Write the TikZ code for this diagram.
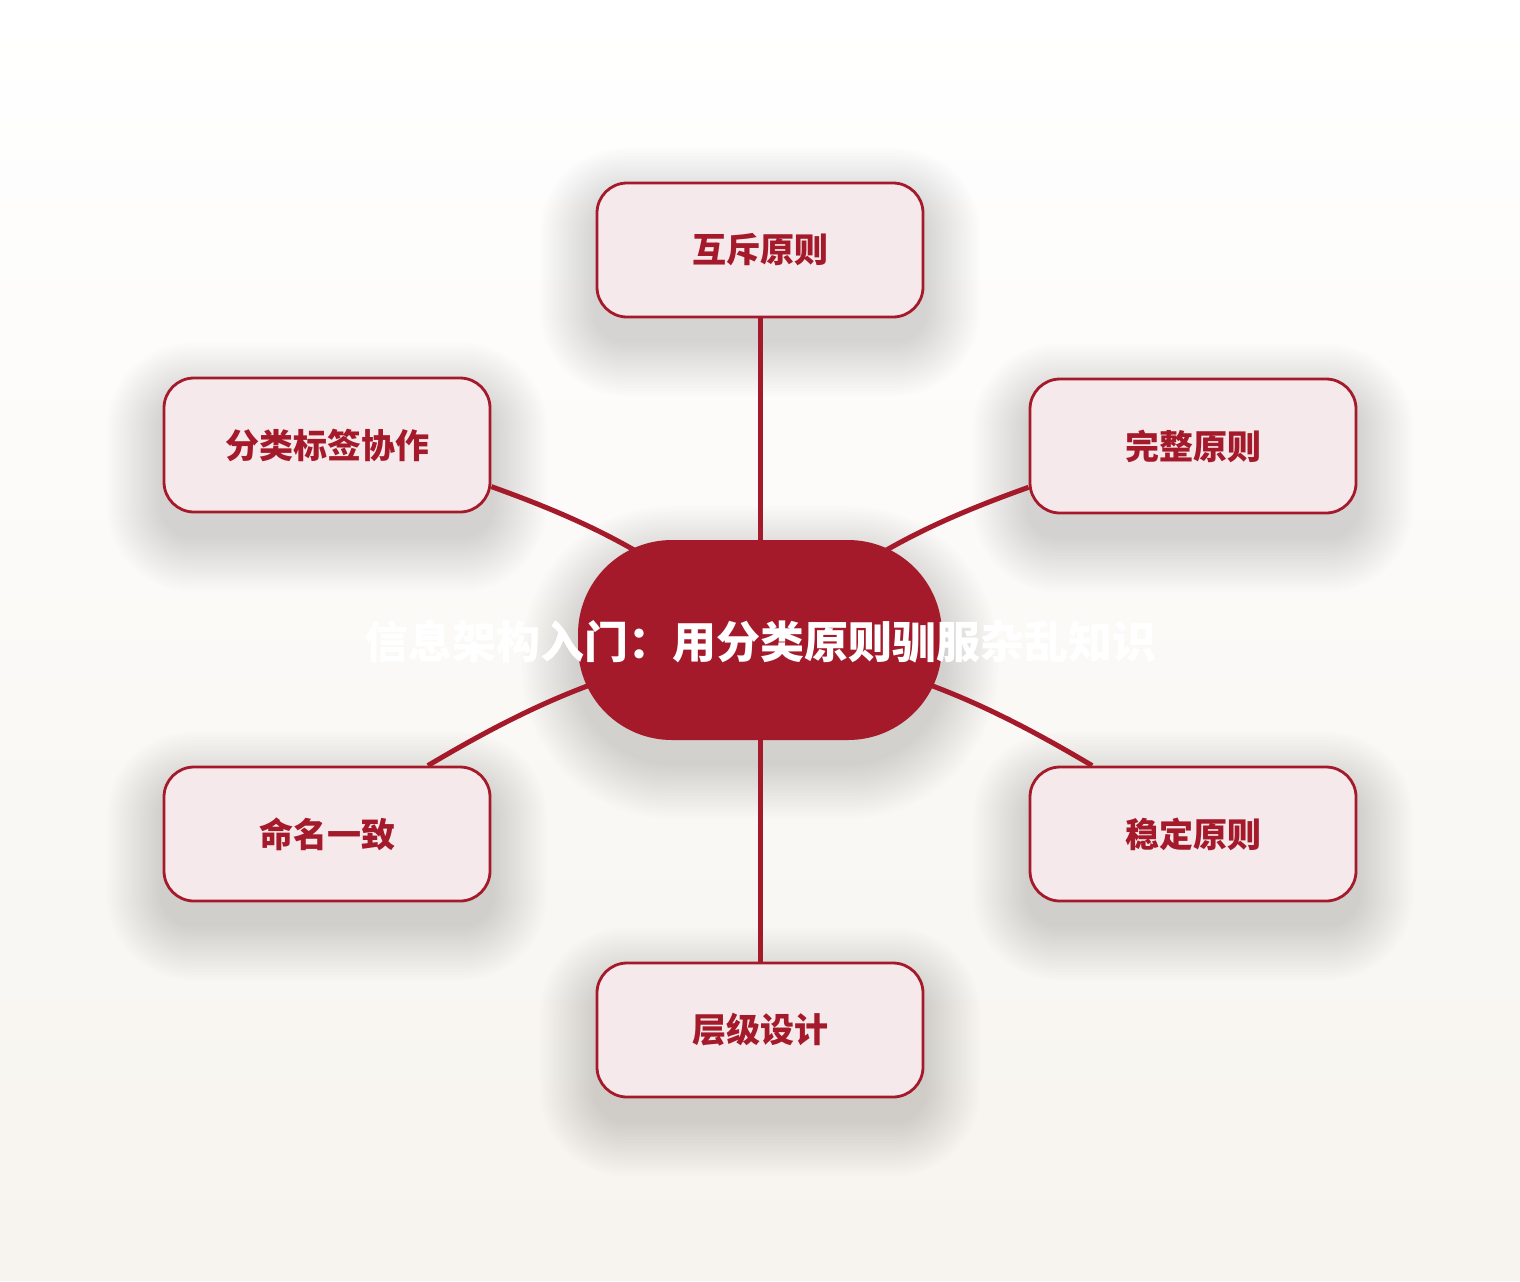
\documentclass[tikz,border=0pt]{standalone}
\usepackage{fontspec}
\newfontfamily\cjk{Noto Sans CJK SC}
\definecolor{crimson}{HTML}{A51A2A}
\definecolor{blush}{HTML}{F5E9EC}
\definecolor{paper}{HTML}{F7F4EF}
\pgfdeclarelayer{paperlayer}
\pgfdeclarelayer{shadowlayer}
\pgfdeclarelayer{links}
\pgfsetlayers{paperlayer,shadowlayer,links,main}
\tikzset{
  leaf/.style={draw=crimson, line width=1.4pt, fill=blush, rounded corners=15pt,
    minimum width=163pt, minimum height=67pt, text=crimson,
    font=\cjk\bfseries\fontsize{17}{20}\selectfont},
  hub/.style={fill=crimson, rounded corners=47pt, minimum width=182pt, minimum height=100pt},
  link/.style={crimson, line width=2.5pt},
  haze/.style={black, opacity=0.009}
}
\begin{document}
\begin{tikzpicture}[x=0.5pt,y=-0.5pt]
\begin{pgfonlayer}{paperlayer}
\foreach \i in {0,...,31}
  \fill [paper!\the\numexpr\i*100/31\relax!white](0,\i*40) rectangle (1520,\i*40+41);
\end{pgfonlayer}
\useasboundingbox (0,0) rectangle (1520,1280);
\node [hub] (core) at (760,640) {};
\node [leaf] (mutex) at (760,250) {互斥原则};
\node [leaf] (tagging) at (327,445) {分类标签协作};
\node [leaf] (complete) at (1193,446) {完整原则};
\node [leaf] (naming) at (327,834) {命名一致};
\node [leaf] (stable) at (1193,834) {稳定原则};
\node [leaf] (level) at (760,1030) {层级设计};
\node [text=white, font=\cjk\bfseries\fontsize{22}{26}\selectfont] (title) at (760,642) {信息架构入门：用分类原则驯服杂乱知识};
% soft shadows
\begin{pgfonlayer}{shadowlayer}
\foreach \n in {mutex,tagging,complete,naming,stable,level}
  \foreach \k in {1,...,20}
    \fill [haze, rounded corners={15pt+\k*1.4pt}]
      ([shift={(-\k*1.4pt,-11pt-\k*1.4pt)}]\n.south west) rectangle ([shift={(\k*1.4pt,-11pt+\k*1.4pt)}]\n.north east);
\foreach \k in {1,...,20}
  \fill [haze, rounded corners={47pt+\k*1.4pt}]
    ([shift={(-\k*1.4pt,-11pt-\k*1.4pt)}]core.south west) rectangle ([shift={(\k*1.4pt,-11pt+\k*1.4pt)}]core.north east);
\end{pgfonlayer}
% links run under the hub, into its centre
\begin{pgfonlayer}{links}
\draw [link](mutex) -- (core);
\draw [link](tagging) to[bend left=10] (core.center);
\draw [link](complete) to[bend right=10] (core.center);
\draw [link](naming) to[bend left=10] (core.center);
\draw [link](stable) to[bend right=10] (core.center);
\draw [link](level) -- (core);
\end{pgfonlayer}
\end{tikzpicture}
\end{document}
